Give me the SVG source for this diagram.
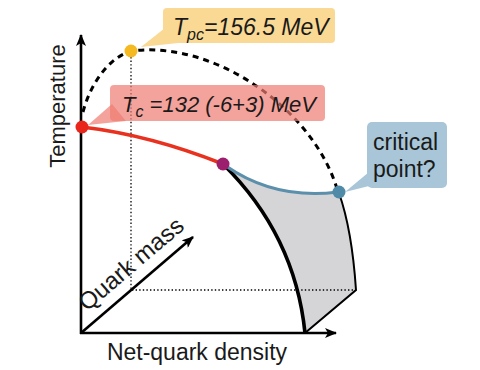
<svg xmlns="http://www.w3.org/2000/svg" width="480" height="370" viewBox="0 0 480 370">
  <style>
    .lbl { font-family: "Liberation Sans", Arial, sans-serif; fill: #1a1a1a; }
    .it { font-style: italic; }
    .axis { stroke: #000; stroke-width: 2.6; fill: none; }
    .dot { stroke: #000; stroke-width: 1.3; stroke-dasharray: 1.4 2.2; fill: none; }
  </style>
  <defs>
    <marker id="arr" viewBox="0 0 12 10" refX="11" refY="5" markerWidth="12" markerHeight="10" markerUnits="userSpaceOnUse" orient="auto">
      <path d="M0,0 L12,5 L0,10 L3,5 Z" fill="#000"/>
    </marker>
  </defs>
  <rect width="480" height="370" fill="#fff"/>

  <g id="region">
    <path d="M226,166 Q275,200 339,193 Q352,230 356,290 L305,333 Q295,235 223,164 Z" fill="#d5d5d7"/>
  </g>

  <g id="connectors">
    <path class="dot" d="M131,57 V290 H356"/>
    <path class="axis" d="M81,334 V35" marker-end="url(#arr)"/>
    <path class="axis" d="M80,333 H336" marker-end="url(#arr)"/>
    <path class="axis" d="M81,333 L193,237" marker-end="url(#arr)"/>
    <path d="M83,112 C90,85 108,58 131,51 C215,40 315,110 338,192" fill="none" stroke="#000" stroke-width="3" stroke-dasharray="6 5"/>
    <path d="M82,127 Q150,135 223,164" fill="none" stroke="#e8321f" stroke-width="3.5"/>
    <path d="M223,164 Q295,235 305,333" fill="none" stroke="#000" stroke-width="3.6"/>
    <path d="M226,166 Q275,200 338,192" fill="none" stroke="#5b8fab" stroke-width="3"/>
    <path d="M339,193 Q352,230 356,290 L305,333" fill="none" stroke="#000" stroke-width="2"/>
  </g>

  <g id="node-tpc">
    <path d="M165,28 L178,43 L141,47 Z" fill="#f9d994"/>
    <rect x="163" y="8" width="172" height="35" rx="4" fill="#f9d994"/>
    <text class="lbl it" x="173" y="35" font-size="23">T<tspan font-size="16" dy="5">pc</tspan><tspan dy="-5">=156.5 MeV</tspan></text>
    <circle cx="131" cy="51" r="6.5" fill="#f5b921"/>
  </g>

  <g id="node-tc">
    <path d="M112,104 L126,121 L88,125 Z" fill="#f07c72" fill-opacity="0.7"/>
    <rect x="110" y="85" width="215" height="36" rx="4" fill="#f07c72" fill-opacity="0.7"/>
    <text class="lbl it" x="122" y="112" font-size="22">T<tspan font-size="16" dy="5">c</tspan><tspan dy="-5"> =132 (-6+3) MeV</tspan></text>
    <circle cx="82" cy="127" r="6.5" fill="#e8261c"/>
  </g>

  <g id="node-purple">
    <circle cx="223" cy="164" r="6.5" fill="#9c1f6e"/>
  </g>

  <g id="node-critical">
    <path d="M369,172 L369,186 L345,192 Z" fill="#a8c6d7"/>
    <rect x="367" y="122" width="80" height="66" rx="5" fill="#a8c6d7"/>
    <text class="lbl" x="373" y="150" font-size="23">critical</text>
    <text class="lbl" x="373" y="177" font-size="23">point?</text>
    <circle cx="339" cy="192" r="6.5" fill="#4f8aa8"/>
  </g>

  <g id="axis-labels">
    <text class="lbl" font-size="22" text-anchor="middle" transform="translate(65,106) rotate(-90)">Temperature</text>
    <text class="lbl" font-size="23" text-anchor="middle" x="197" y="360">Net-quark density</text>
    <text class="lbl" font-size="24" transform="translate(87,312) rotate(-40.4)">Quark mass</text>
  </g>
</svg>
